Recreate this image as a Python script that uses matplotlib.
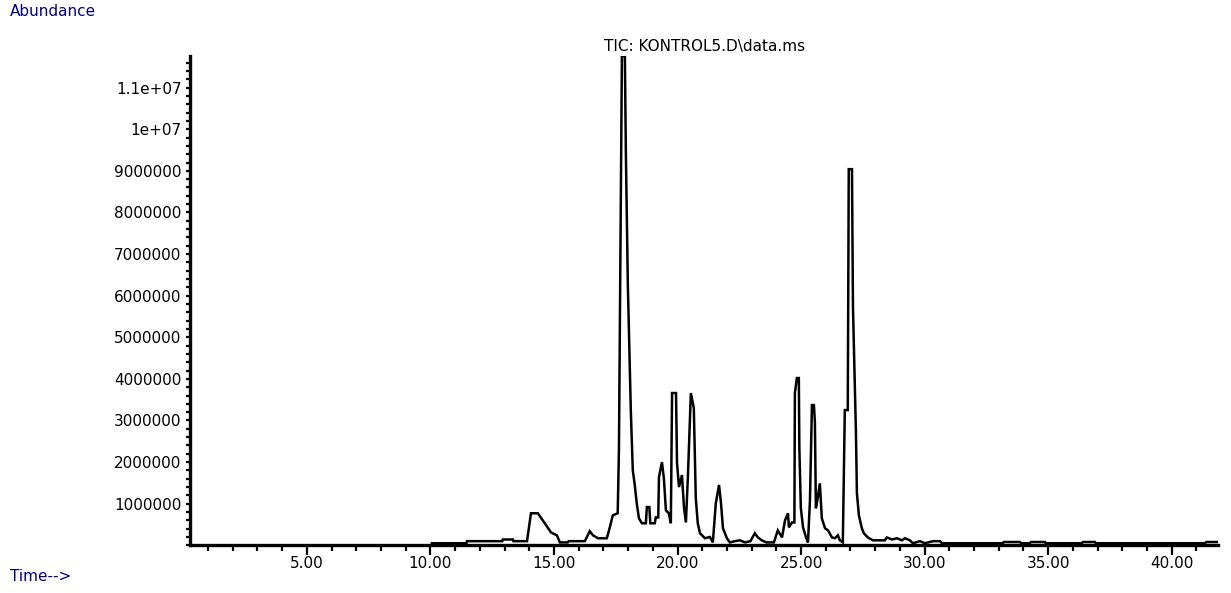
import matplotlib
matplotlib.use("Agg")
import matplotlib.pyplot as plt
from matplotlib.ticker import MultipleLocator

# retention time (min) and total ion current (abundance, millions)
time_min = [
    10.06, 11.46, 11.48, 12.91, 12.93, 13.34, 13.36, 13.91, 14.07, 14.35,
    14.63, 14.88, 15.12, 15.24, 15.56, 15.60, 16.25, 16.45, 16.58, 16.78,
    17.14, 17.26, 17.38, 17.58, 17.63, 17.71, 17.75, 17.87, 17.91, 17.99,
    18.11, 18.19, 18.27, 18.35, 18.44, 18.56, 18.72, 18.76, 18.86, 18.90,
    19.08, 19.12, 19.22, 19.25, 19.37, 19.45, 19.53, 19.65, 19.73, 19.78,
    19.94, 19.98, 20.06, 20.18, 20.26, 20.34, 20.42, 20.54, 20.66, 20.74,
    20.82, 20.91, 21.11, 21.31, 21.43, 21.55, 21.68, 21.76, 21.84, 22.00,
    22.12, 22.32, 22.53, 22.73, 22.95, 23.13, 23.25, 23.41, 23.60, 23.90,
    24.06, 24.23, 24.35, 24.47, 24.51, 24.63, 24.73, 24.75, 24.83, 24.91,
    24.93, 24.99, 25.08, 25.20, 25.28, 25.36, 25.44, 25.52, 25.56, 25.60,
    25.68, 25.76, 25.84, 25.97, 26.09, 26.25, 26.37, 26.49, 26.57, 26.69,
    26.77, 26.89, 26.93, 27.06, 27.10, 27.22, 27.26, 27.34, 27.46, 27.54,
    27.70, 27.91, 28.11, 28.39, 28.47, 28.68, 28.88, 29.08, 29.20, 29.40,
    29.53, 29.81, 30.01, 30.34, 30.62, 30.70, 33.17, 33.20, 33.86, 33.90,
    34.26, 34.30, 34.87, 34.90, 36.36, 36.40, 36.89, 36.93, 41.35, 41.40,
    41.87,
]
abundance_mil = [
    0.05, 0.05, 0.10, 0.10, 0.14, 0.14, 0.10, 0.10, 0.77, 0.77,
    0.53, 0.31, 0.24, 0.07, 0.07, 0.10, 0.10, 0.34, 0.24, 0.17,
    0.17, 0.43, 0.72, 0.77, 2.29, 8.72, 11.76, 11.76, 9.45, 6.27,
    3.25, 1.81, 1.45, 1.01, 0.65, 0.53, 0.53, 0.92, 0.92, 0.53,
    0.53, 0.67, 0.67, 1.64, 2.00, 1.60, 0.84, 0.77, 0.53, 3.66,
    3.66, 1.98, 1.40, 1.69, 0.92, 0.55, 1.64, 3.66, 3.30, 1.13,
    0.53, 0.29, 0.17, 0.20, 0.07, 1.01, 1.45, 1.01, 0.41, 0.17,
    0.07, 0.10, 0.12, 0.07, 0.10, 0.29, 0.19, 0.12, 0.07, 0.07,
    0.36, 0.19, 0.60, 0.77, 0.43, 0.55, 0.55, 3.66, 4.02, 4.02,
    2.37, 0.90, 0.43, 0.19, 0.07, 1.08, 3.37, 3.37, 2.96, 0.89,
    1.16, 1.49, 0.65, 0.41, 0.36, 0.19, 0.17, 0.24, 0.12, 0.07,
    3.25, 3.25, 9.04, 9.04, 5.73, 2.72, 1.25, 0.72, 0.41, 0.29,
    0.19, 0.12, 0.12, 0.12, 0.19, 0.14, 0.17, 0.12, 0.17, 0.12,
    0.05, 0.10, 0.05, 0.10, 0.10, 0.05, 0.05, 0.08, 0.08, 0.05,
    0.05, 0.08, 0.08, 0.05, 0.05, 0.08, 0.08, 0.05, 0.05, 0.08,
    0.08,
]

x_ticks = [5, 10, 15, 20, 25, 30, 35, 40]
x_labels = ["5.00", "10.00", "15.00", "20.00", "25.00", "30.00", "35.00", "40.00"]
y_ticks = [1e6, 2e6, 3e6, 4e6, 5e6, 6e6, 7e6, 8e6, 9e6, 1e7, 1.1e7]
y_labels = ["1000000", "2000000", "3000000", "4000000", "5000000", "6000000",
            "7000000", "8000000", "9000000", "1e+07", "1.1e+07"]

navy = "#000080"
tick_font = {"family": "DejaVu Sans", "size": 11}

fig = plt.figure(figsize=(12.31, 5.93), dpi=100)
ax = fig.add_axes([0.1543, 0.0804, 0.8351, 0.8252])

abundance = [v * 1e6 for v in abundance_mil]
ax.plot(time_min, abundance, color="black", lw=1.8, solid_joinstyle="miter")

ax.set_xlim(0.27, 41.87)
ax.set_ylim(0, 11.76e6)

for side in ["top", "right"]:
    ax.spines[side].set_visible(False)
for side in ["left", "bottom"]:
    ax.spines[side].set_linewidth(2.4)

ax.set_xticks(x_ticks)
ax.set_xticklabels(x_labels, fontdict=tick_font)
ax.xaxis.set_minor_locator(MultipleLocator(1))
ax.set_yticks(y_ticks)
ax.set_yticklabels(y_labels, fontdict=tick_font)
ax.yaxis.set_minor_locator(MultipleLocator(2e5))

ax.tick_params(axis="x", which="major", direction="out", length=7, width=1.6, pad=1)
ax.tick_params(axis="x", which="minor", direction="out", length=4, width=1.6)
ax.tick_params(axis="y", which="both", direction="out", length=3, width=1.6, pad=3)

fig.text(0.572, 0.921, "TIC: KONTROL5.D\\data.ms", ha="center", va="center",
         fontsize=11, family="DejaVu Sans", color="black")
fig.text(0.008, 0.98, "Abundance", ha="left", va="center",
         fontsize=11, family="DejaVu Sans", color=navy)
fig.text(0.008, 0.027, "Time-->", ha="left", va="center",
         fontsize=11, family="DejaVu Sans", color=navy)

fig.savefig("out.png", dpi=100)
